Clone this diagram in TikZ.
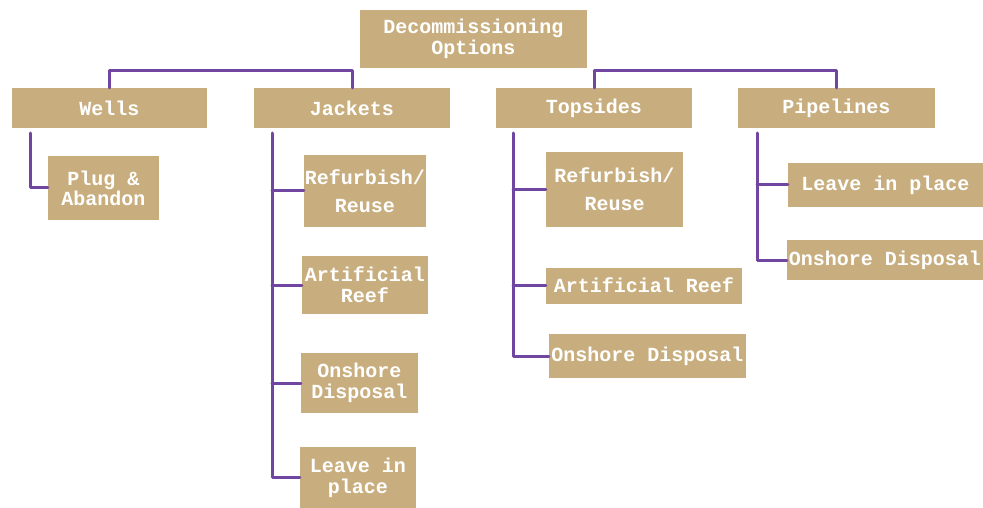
\documentclass[tikz,border=0pt]{standalone}
\usepackage{fontspec}
\setmonofont{Liberation Mono}
\usetikzlibrary{calc, positioning}
\definecolor{boxtan}{RGB}{200,174,126}
\definecolor{linkpurple}{RGB}{112,70,160}

\begin{document}
\begin{tikzpicture}[x=1pt,y=-1pt, line cap=round, line join=round,
  every node/.style={font=\ttfamily\bfseries\fontsize{20}{21}\selectfont, text=white},
  opt/.style={fill=boxtan, inner sep=0pt, align=center},
  link/.style={draw=linkpurple, line width=3pt}]
\useasboundingbox (0,0) rectangle (983,508);

% Root
\node [opt, minimum width=227, minimum height=58] (root) at (473.5,39) {Decommissioning\\Options};

% Categories
\node [opt, minimum width=195, minimum height=40] (wells) at (109.5,108) {Wells};
\node [opt, minimum width=196, minimum height=40] (jackets) at (352,108) {Jackets};
\node [opt, minimum width=196, minimum height=40] (topsides) at (594,108) {Topsides};
\node [opt, minimum width=197, minimum height=40] (pipelines) at (836.5,108) {Pipelines};

% Wells options
\node [opt, minimum width=111, minimum height=64] (plug) at (103.5,188) {Plug \&\\[-1pt]Abandon};

% Jackets options
\node [opt, minimum width=122, minimum height=72] (jref) at (365,191) {Refurbish/\\[7pt]Reuse};
\node [opt, minimum width=126, minimum height=58] (jreef) at (365,285) {Artificial\\Reef};
\node [opt, minimum width=117, minimum height=60] (jons) at (359.5,383) {Onshore\\Disposal};
\node [opt, minimum width=116, minimum height=61] (jleave) at (358,477.5) {Leave in\\place};

% Topsides options
\node [opt, minimum width=137, minimum height=75] (tref) at (614.5,189.5) {Refurbish/\\[7pt]Reuse};
\node [opt, minimum width=196, minimum height=36] (treef) at (644,285.5) {Artificial Reef};
\node [opt, minimum width=197, minimum height=44] (tons) at (647.5,356) {Onshore Disposal};

% Pipelines options
\node [opt, minimum width=195, minimum height=44] (pleave) at (885.5,185) {Leave in place};
\node [opt, minimum width=196, minimum height=40] (pons) at (885,260) {Onshore Disposal};

% Top bus
\draw [link] (wells.north) -- ++(0,-17) -| (jackets.north);
\draw [link] (topsides.north) -- ++(0,-17) -| (pipelines.north);

% Branch stems
\coordinate (w0) at (30,133);
\coordinate (j0) at (272,133);
\coordinate (t0) at (513,133);
\coordinate (p0) at (757,133);

\draw [link] (w0) |- (plug.west);
\draw [link] (j0) |- (jleave.west);
\foreach \n in {jref,jreef,jons}
  \draw [link] (j0 |- \n.west) -- (\n.west);
\draw [link] (t0) |- (tons.west);
\foreach \n in {tref,treef}
  \draw [link] (t0 |- \n.west) -- (\n.west);
\draw [link] (p0) |- (pons.west);
\draw [link] (p0 |- pleave.west) -- (pleave.west);
\end{tikzpicture}
\end{document}
